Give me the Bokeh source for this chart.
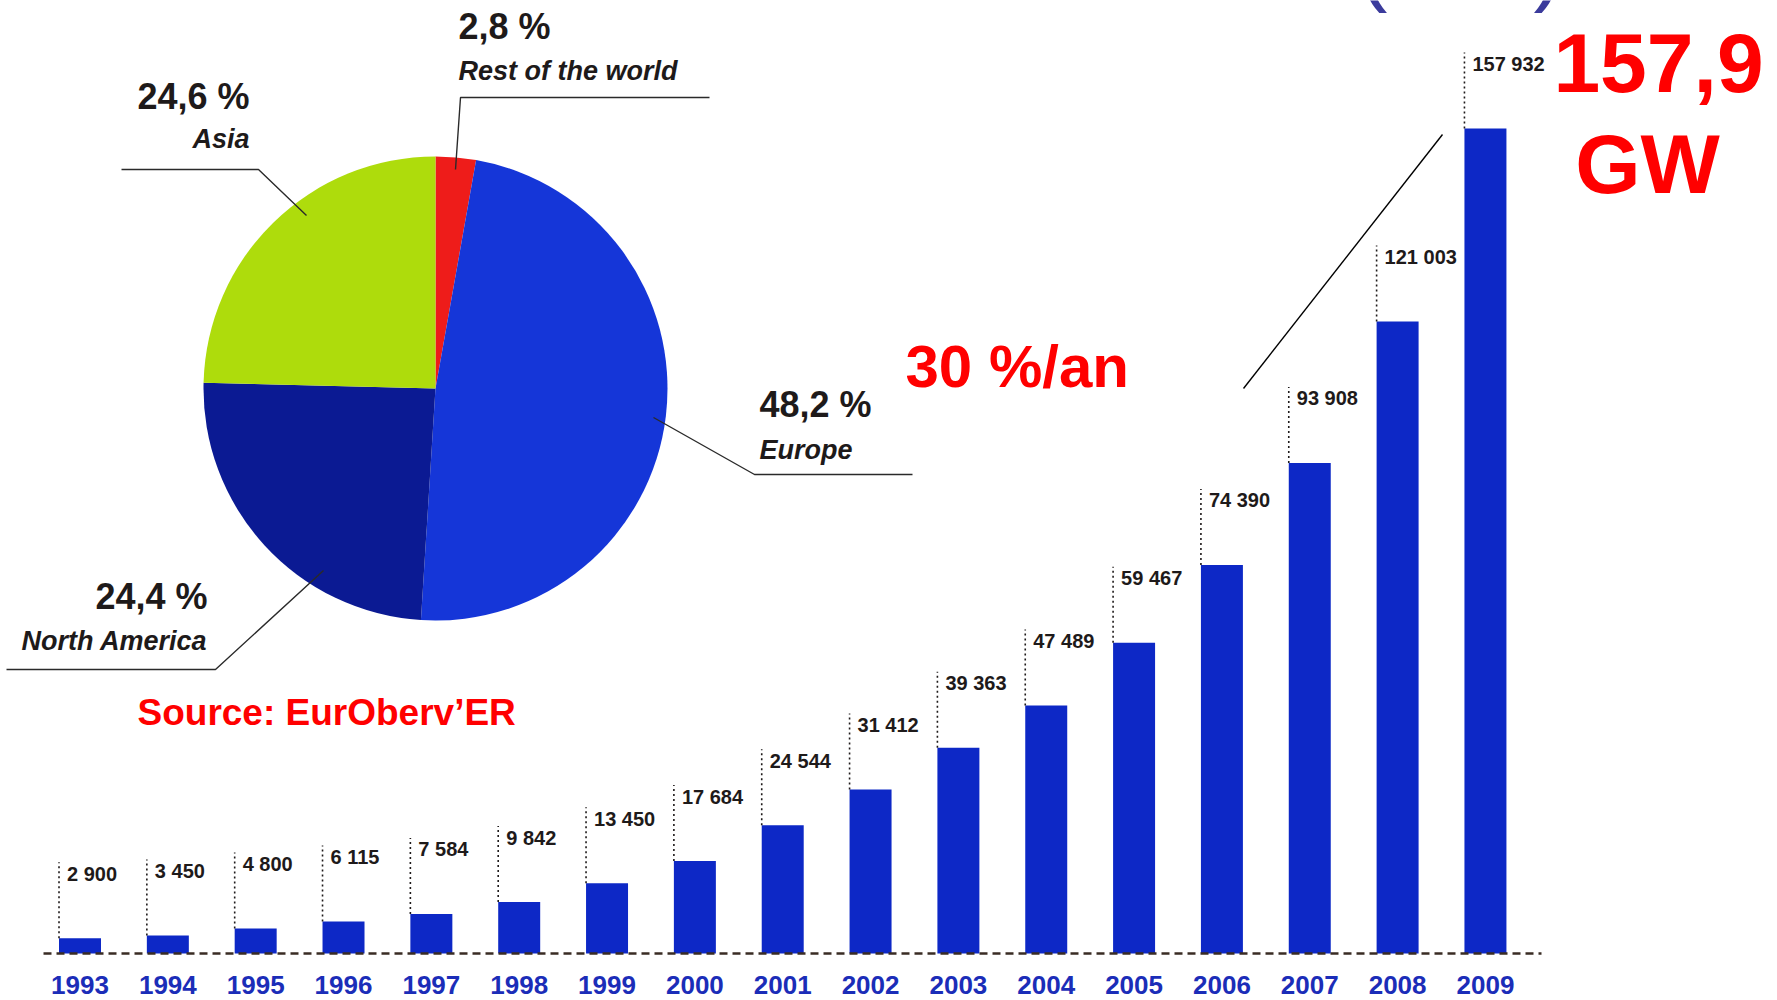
import math

from bokeh.core.properties import value
from bokeh.embed import file_html
from bokeh.models import Range1d
from bokeh.plotting import figure
from bokeh.resources import INLINE

# Installed photovoltaic capacity (MW), year by year
years = [1993, 1994, 1995, 1996, 1997, 1998, 1999, 2000, 2001,
         2002, 2003, 2004, 2005, 2006, 2007, 2008, 2009]
capacity_mw = [2900, 3450, 4800, 6115, 7584, 9842, 13450, 17684, 24544,
               31412, 39363, 47489, 59467, 74390, 93908, 121003, 157932]

# Share of the 2009 capacity by region (clockwise from 12 o'clock)
regions = ["Rest of the world", "Europe", "North America", "Asia"]
shares = [2.8, 48.2, 24.4, 24.6]
share_labels = ["2,8 %", "48,2 %", "24,4 %", "24,6 %"]

W, H = 1777, 1000

# Bar-chart geometry (pixels)
BAR_PITCH = 87.84          # distance between two years
FIRST_BAR_X = 79.5         # centre of the first bar
BASE_Y = 953               # zero line, measured from the top
MW_PER_PX = 191.43
BAR_W = 0.478              # in years

x_start = years[0] - FIRST_BAR_X / BAR_PITCH
y_start = -(H - BASE_Y) * MW_PER_PX

p = figure(width=W, height=H,
           x_range=Range1d(x_start, x_start + W / BAR_PITCH),
           y_range=Range1d(y_start, y_start + H * MW_PER_PX),
           output_backend="svg", toolbar_location=None,
           x_axis_location=None, y_axis_location=None, min_border=0)
p.outline_line_color = None
p.grid.visible = False
p.background_fill_color = "white"

# plain pixel coordinates for the annotations (y measured upwards)
p.extra_x_ranges = {"px": Range1d(0, W)}
p.extra_y_ranges = {"px": Range1d(0, H)}


def py(top):
    return H - top


PX = dict(x_range_name="px", y_range_name="px")

SANS = value("'Liberation Sans'")
INK = "#1e1a1a"

# ---- bars -------------------------------------------------------------
p.vbar(x=years, top=capacity_mw, bottom=0, width=BAR_W,
       fill_color="#0d28c6", line_color=None)

left_edges = [y - BAR_W / 2 for y in years]
p.segment(x0=left_edges, y0=capacity_mw,
          x1=left_edges, y1=[v + 76 * MW_PER_PX for v in capacity_mw],
          line_color=INK, line_width=1.6, line_dash="2 3")

value_text = [f"{v:,}".replace(",", " ") for v in capacity_mw]
p.text(x=[x + 8 / BAR_PITCH for x in left_edges],
       y=[v + 64.5 * MW_PER_PX for v in capacity_mw],
       text=value_text, text_align="left", text_baseline="middle",
       text_font=SANS, text_font_size=value("20px"),
       text_font_style="bold", text_color=INK)

# dashed zero line
p.line(x=[43, 1541], y=[0, 0], x_range_name="px",
       line_color="#3a2c24", line_width=2.5, line_dash="8 5")

p.text(x=years, y=[-31 * MW_PER_PX] * len(years),
       text=[str(y) for y in years], text_align="center",
       text_baseline="middle", text_font=SANS,
       text_font_size=value("26px"), text_font_style="bold",
       text_color="#1b2db8")

# ---- pie --------------------------------------------------------------
pie_colors = ["#ee1c1a", "#1536d8", "#0b1a93", "#aedc0c"]
total = sum(shares)
cum = 0.0
starts, ends = [], []
for s in shares:
    starts.append(math.pi / 2 - 2 * math.pi * cum / total)
    cum += s
    ends.append(math.pi / 2 - 2 * math.pi * cum / total)

p.wedge(x=[435] * 4, y=[py(388)] * 4, radius=232,
        start_angle=starts, end_angle=ends, direction="clock",
        fill_color=pie_colors, line_color=None, **PX)

leaders = [
    [(455, 169), (460, 97), (709, 97)],      # Rest of the world
    [(653, 417), (754, 474), (912, 474)],    # Europe
    [(323, 570), (215, 669), (6, 669)],      # North America
    [(306, 215), (258, 169), (121, 169)],    # Asia
]
for pts in leaders:
    p.line(x=[q[0] for q in pts], y=[py(q[1]) for q in pts],
           line_color="#2a2a2a", line_width=1.4, **PX)

# percentage and region names
pct_pos = [(458, 26, "left"), (759, 404, "left"),
           (207, 596, "right"), (249, 96, "right")]
name_pos = [(458, 70, "left"), (759, 449, "left"),
            (207, 640, "right"), (249, 138, "right")]
for lab, name, (px_, pt_, al), (nx, nt, nal) in zip(share_labels, regions,
                                                      pct_pos, name_pos):
    p.text(x=[px_], y=[py(pt_)], text=[lab], text_align=al,
           text_baseline="middle", text_font=SANS,
           text_font_size=value("36px"), text_font_style="bold",
           text_color=INK, **PX)
    p.text(x=[nx], y=[py(nt)], text=[name], text_align=nal,
           text_baseline="middle", text_font=SANS,
           text_font_size=value("27px"), text_font_style="bold italic",
           text_color=INK, **PX)

# ---- growth annotation -----------------------------------------------
p.line(x=[1243, 1442], y=[py(388), py(134)], line_color="black",
       line_width=1.4, **PX)

RED = "#ff0000"
p.text(x=[905], y=[py(366)], text=["30 %/an"], text_align="left",
       text_baseline="middle", text_font=SANS,
       text_font_size=value("60px"), text_font_style="bold",
       text_color=RED, **PX)
p.text(x=[1658], y=[py(62)], text=["157,9"], text_align="center",
       text_baseline="middle", text_font=SANS,
       text_font_size=value("84px"), text_font_style="bold",
       text_color=RED, **PX)
p.text(x=[1647], y=[py(163)], text=["GW"], text_align="center",
       text_baseline="middle", text_font=SANS,
       text_font_size=value("84px"), text_font_style="bold",
       text_color=RED, **PX)
p.text(x=[137], y=[py(712)], text=["Source: EurOberv\u2019ER"],
       text_align="left", text_baseline="middle", text_font=SANS,
       text_font_size=value("37px"), text_font_style="bold",
       text_color=RED, **PX)

# bracket tails running off the top edge
p.text(x=[1357, 1533], y=[py(12), py(12)], text=["(", ")"],
       text_align="left", text_baseline="bottom", text_font=SANS,
       text_font_size=value("90px"), text_color="#3b3b9c", **PX)

open("out.html", "w").write(file_html(p, INLINE))
